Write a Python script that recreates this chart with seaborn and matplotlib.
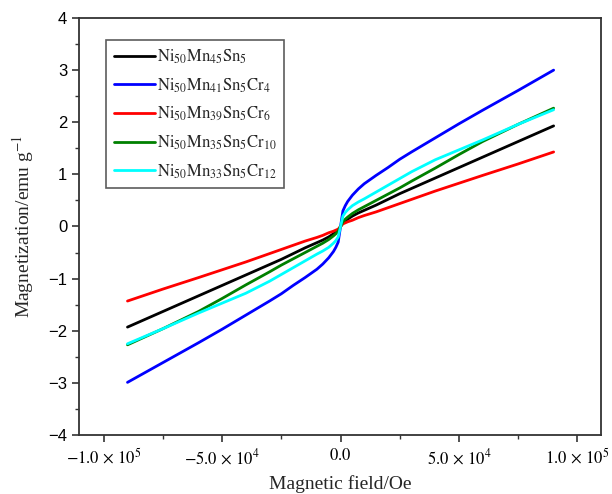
import numpy as np
import pandas as pd
import matplotlib
matplotlib.use("Agg")
import matplotlib.pyplot as plt
import seaborn as sns
from matplotlib.ticker import MultipleLocator

# ---------------- data ----------------
field = [-90000, -75000, -60000, -50000, -40000, -30000, -25000, -20000, -15000,
         -10000, -7500, -5000, -3000, -2000, -1000, 0,
         1000, 2000, 3000, 5000, 7500, 10000, 15000, 20000, 25000, 30000,
         40000, 50000, 60000, 75000, 90000]

m_cr0 = [-1.93, -1.63, -1.33, -1.13, -0.93, -0.73, -0.63, -0.52, -0.41,
         -0.31, -0.26, -0.20, -0.14, -0.11, -0.07, 0.0,
         0.07, 0.11, 0.14, 0.20, 0.26, 0.31, 0.41, 0.52, 0.63, 0.73,
         0.93, 1.13, 1.33, 1.63, 1.93]
m_cr4 = [-2.99, -2.61, -2.23, -1.97, -1.70, -1.43, -1.29, -1.13, -0.98,
         -0.82, -0.72, -0.60, -0.48, -0.40, -0.30, 0.0,
         0.30, 0.40, 0.48, 0.60, 0.72, 0.82, 0.98, 1.13, 1.29, 1.43,
         1.70, 1.97, 2.23, 2.61, 3.00]
m_cr6 = [-1.43, -1.20, -0.98, -0.83, -0.68, -0.52, -0.44, -0.36, -0.28,
         -0.21, -0.17, -0.12, -0.09, -0.07, -0.05, 0.0,
         0.05, 0.07, 0.09, 0.12, 0.17, 0.21, 0.28, 0.36, 0.44, 0.52,
         0.68, 0.83, 0.98, 1.20, 1.43]
m_cr10 = [-2.27, -1.96, -1.63, -1.38, -1.12, -0.87, -0.74, -0.62, -0.50,
          -0.38, -0.32, -0.25, -0.18, -0.14, -0.09, 0.0,
          0.09, 0.14, 0.18, 0.25, 0.32, 0.38, 0.50, 0.62, 0.74, 0.87,
          1.12, 1.38, 1.63, 1.96, 2.27]
m_cr12 = [-2.25, -1.96, -1.66, -1.47, -1.28, -1.05, -0.92, -0.79, -0.66,
          -0.53, -0.47, -0.40, -0.32, -0.27, -0.20, 0.0,
          0.20, 0.27, 0.32, 0.40, 0.47, 0.53, 0.66, 0.79, 0.92, 1.05,
          1.28, 1.47, 1.66, 1.96, 2.24]

labels = [r"$\mathrm{Ni_{50}Mn_{45}Sn_{5}}$",
          r"$\mathrm{Ni_{50}Mn_{41}Sn_{5}Cr_{4}}$",
          r"$\mathrm{Ni_{50}Mn_{39}Sn_{5}Cr_{6}}$",
          r"$\mathrm{Ni_{50}Mn_{35}Sn_{5}Cr_{10}}$",
          r"$\mathrm{Ni_{50}Mn_{33}Sn_{5}Cr_{12}}$"]
series = [m_cr0, m_cr4, m_cr6, m_cr10, m_cr12]
colors = ["#000000", "#0000ff", "#ff0000", "#008000", "#00ffff"]

xticks = [-100000, -50000, 0, 50000, 100000]
xticklabels = [r"$-1.0\,\times\,10^{5}$", r"$-5.0\,\times\,10^{4}$", r"$0.0$",
               r"$5.0\,\times\,10^{4}$", r"$1.0\,\times\,10^{5}$"]
yticks = [-4, -3, -2, -1, 0, 1, 2, 3, 4]

# ---------------- build table ----------------
rows = []
for lab, vals in zip(labels, series):
    for x, y in zip(field, vals):
        rows.append({"field": x, "M": y, "sample": lab})
df = pd.DataFrame(rows)

sns.set_theme(style="white")
plt.rcParams["mathtext.fontset"] = "stix"
plt.rcParams["font.family"] = ["Liberation Sans", "DejaVu Sans"]
plt.rcParams["axes.unicode_minus"] = True

fig = plt.figure(figsize=(6.12, 4.94), dpi=100)
ax = fig.add_axes([0.129, 0.1194, 0.853, 0.8442])

sns.lineplot(data=df, x="field", y="M", hue="sample",
             palette=dict(zip(labels, colors)), hue_order=labels,
             estimator=None, sort=False, linewidth=2.0, ax=ax)

ax.set_xlim(-110500, 110000)
ax.set_ylim(-4, 4)
ax.set_xticks(xticks)
ax.set_xticklabels(xticklabels, fontsize=12)
ax.set_yticks(yticks)
ax.set_yticklabels([str(v).replace("-", "\u2212") for v in yticks], fontsize=12)
ax.xaxis.set_minor_locator(MultipleLocator(25000))
ax.yaxis.set_minor_locator(MultipleLocator(0.5))
ax.tick_params(which="major", direction="out", length=5, width=1.2,
               bottom=True, left=True, top=False, right=False, colors="#333333",
               labelcolor="black")
ax.tick_params(which="minor", direction="out", length=3, width=1.0,
               bottom=True, left=True, top=False, right=False, colors="#333333")
for sp in ax.spines.values():
    sp.set_color("#333333")
    sp.set_linewidth(1.3)

ax.set_xlabel("Magnetic field/Oe", family=["Liberation Serif"], fontsize=14,
              labelpad=6)
ax.set_ylabel(r"Magnetization/emu g$^{-1}$", family=["Liberation Serif"],
              fontsize=14, labelpad=9)

leg = ax.legend(loc="upper left", bbox_to_anchor=(0.052, 0.947), fontsize=12,
                frameon=True, fancybox=False, handlelength=2.5,
                handletextpad=0.1, borderpad=0.45, labelspacing=0.62,
                borderaxespad=0.0)
leg.get_frame().set_edgecolor("#333333")
leg.get_frame().set_linewidth(1.2)
for h in leg.get_lines():
    h.set_linewidth(2.0)

fig.savefig("out.png", dpi=100)
